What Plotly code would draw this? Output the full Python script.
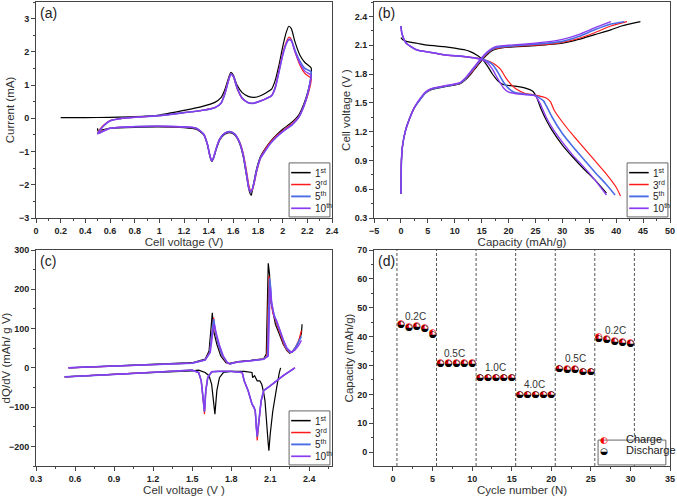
import plotly.graph_objects as go

# ---------------- colours / labels ----------------
cycle_names = ["1<sup>st</sup>", "3<sup>rd</sup>", "5<sup>th</sup>", "10<sup>th</sup>"]
cycle_colors = ["#000000", "#ff1a1a", "#4a6de5", "#8a3cf0"]
cycle_widths = [1.2, 1.2, 1.6, 1.4]

# ---------------- (a) cyclic voltammetry ----------------
cv_v_1 = [0.2, 0.4, 0.6, 0.8, 1.0, 1.2, 1.35, 1.45, 1.5, 1.53, 1.56, 1.58, 1.6, 1.63, 1.67, 1.72, 1.77,
          1.82, 1.87, 1.91, 1.94, 1.97, 2.0, 2.03, 2.05, 2.07, 2.1, 2.14, 2.18, 2.23,
          2.23, 2.2, 2.17, 2.13, 2.08, 2.0, 1.95, 1.9, 1.86, 1.82, 1.79, 1.77, 1.755, 1.745, 1.73, 1.71,
          1.68, 1.65, 1.61, 1.57, 1.53, 1.49, 1.46, 1.44, 1.425, 1.41, 1.39, 1.36, 1.3, 1.2, 1.0, 0.8, 0.6, 0.5, 0.5]
cv_i_1 = [0.02, 0.02, 0.03, 0.05, 0.1, 0.24, 0.36, 0.48, 0.62, 0.85, 1.2, 1.38, 1.3, 1.0, 0.78, 0.66, 0.63,
          0.68, 0.78, 0.88, 1.15, 1.6, 2.15, 2.6, 2.77, 2.7, 2.3, 1.9, 1.68, 1.52,
          1.25, 0.75, 0.42, 0.1, -0.1, -0.33, -0.5, -0.7, -0.9, -1.15, -1.5, -1.85, -2.15, -2.32, -2.2, -1.8,
          -1.15, -0.75, -0.5, -0.43, -0.48, -0.65, -0.95, -1.2, -1.3, -1.15, -0.8, -0.5, -0.33, -0.28, -0.26, -0.27, -0.3, -0.36, -0.3]

cv_v_n = [0.5, 0.55, 0.6, 0.7, 0.8, 1.0, 1.2, 1.35, 1.45, 1.5, 1.53, 1.56, 1.58, 1.6, 1.63, 1.67, 1.72, 1.76,
          1.82, 1.87, 1.91, 1.94, 1.97, 2.0, 2.03, 2.05, 2.07, 2.1, 2.14, 2.18, 2.23,
          2.23, 2.2, 2.17, 2.13, 2.08, 2.0, 1.95, 1.9, 1.86, 1.82, 1.79, 1.77, 1.755, 1.74, 1.725, 1.71,
          1.68, 1.65, 1.61, 1.57, 1.53, 1.49, 1.46, 1.44, 1.425, 1.41, 1.39, 1.36, 1.3, 1.2, 1.0, 0.8, 0.6, 0.5]
cv_i_3 = [-0.42, -0.2, -0.07, 0.0, 0.03, 0.08, 0.17, 0.24, 0.32, 0.45, 0.75, 1.15, 1.34, 1.25, 0.9, 0.6, 0.47, 0.45,
          0.52, 0.6, 0.68, 0.95, 1.45, 1.95, 2.3, 2.44, 2.38, 2.0, 1.6, 1.35, 1.2,
          1.1, 0.65, 0.35, 0.05, -0.15, -0.37, -0.52, -0.72, -0.92, -1.2, -1.6, -1.95, -2.15, -2.17, -2.0, -1.65,
          -1.05, -0.7, -0.47, -0.4, -0.45, -0.62, -0.92, -1.18, -1.28, -1.12, -0.78, -0.48, -0.3, -0.26, -0.24, -0.25, -0.3, -0.42]
cv_i_5 = [-0.45, -0.22, -0.08, 0.0, 0.03, 0.08, 0.17, 0.24, 0.32, 0.45, 0.72, 1.12, 1.33, 1.26, 0.92, 0.62, 0.47, 0.45,
          0.52, 0.6, 0.68, 0.92, 1.4, 1.9, 2.25, 2.37, 2.35, 2.05, 1.72, 1.5, 1.4,
          1.3, 0.7, 0.35, 0.03, -0.18, -0.4, -0.56, -0.76, -0.97, -1.2, -1.55, -1.9, -2.12, -2.2, -2.1, -1.75,
          -1.1, -0.72, -0.47, -0.4, -0.45, -0.62, -0.92, -1.18, -1.28, -1.12, -0.78, -0.48, -0.3, -0.26, -0.24, -0.25, -0.3, -0.45]
cv_i_10 = [-0.47, -0.22, -0.08, 0.0, 0.03, 0.08, 0.17, 0.24, 0.32, 0.45, 0.72, 1.12, 1.33, 1.27, 0.93, 0.62, 0.47, 0.45,
           0.52, 0.6, 0.68, 0.92, 1.4, 1.9, 2.25, 2.37, 2.33, 2.0, 1.65, 1.42, 1.3,
           1.25, 0.7, 0.35, 0.03, -0.18, -0.4, -0.56, -0.76, -0.97, -1.2, -1.55, -1.9, -2.12, -2.22, -2.1, -1.75,
           -1.1, -0.72, -0.47, -0.4, -0.45, -0.62, -0.92, -1.18, -1.28, -1.12, -0.78, -0.48, -0.3, -0.26, -0.24, -0.25, -0.3, -0.47]

# ---------------- (b) charge / discharge profiles ----------------
dis_q_1 = [0, 0.3, 1, 3, 5, 8, 10, 12, 13, 14, 15, 16, 17, 18, 19, 21, 23, 24.5, 25.2, 26, 27, 28, 30, 32, 34, 36, 38.2]
dis_v_1 = [2.18, 2.16, 2.14, 2.12, 2.1, 2.085, 2.07, 2.05, 2.03, 2.0, 1.96, 1.89, 1.8, 1.73, 1.69, 1.675, 1.655, 1.62, 1.56,
           1.44, 1.32, 1.22, 1.06, 0.93, 0.81, 0.7, 0.56]
dis_q_3 = [0, 0.2, 1, 3, 5, 8, 12, 15, 16.5, 17.5, 18.5, 19.5, 20.5, 21.5, 23, 25, 27, 27.8, 28.5, 30, 32, 34, 36, 38, 40, 40.8]
dis_v_3 = [2.3, 2.22, 2.12, 2.05, 2.03, 2.0, 1.98, 1.955, 1.93, 1.9, 1.85, 1.76, 1.69, 1.64, 1.6, 1.58, 1.55, 1.51, 1.42,
           1.3, 1.16, 1.03, 0.9, 0.77, 0.62, 0.53]
dis_q_5 = [0, 0.2, 1, 3, 5, 8, 12, 15, 16, 17, 18, 19, 20, 21, 23, 25, 26.5, 27, 28, 30, 32, 34, 36, 38, 39.8]
dis_v_5 = [2.3, 2.22, 2.12, 2.05, 2.03, 2.0, 1.98, 1.955, 1.935, 1.9, 1.82, 1.72, 1.65, 1.61, 1.59, 1.575, 1.52, 1.47, 1.36,
           1.18, 1.04, 0.91, 0.78, 0.66, 0.54]
dis_q_10 = [0, 0.2, 1, 3, 5, 8, 12, 15, 16, 17, 18, 19, 20, 21, 23, 25, 25.8, 27, 28, 30, 32, 34, 36, 38.2]
dis_v_10 = [2.3, 2.22, 2.12, 2.05, 2.03, 2.0, 1.98, 1.95, 1.92, 1.85, 1.75, 1.66, 1.61, 1.6, 1.585, 1.57, 1.5, 1.35, 1.25,
            1.09, 0.95, 0.83, 0.7, 0.54]

chg_q_1 = [0, 0.1, 0.3, 0.8, 1.5, 2.5, 3.5, 4.5, 5.5, 7, 9, 11, 12, 13, 14, 15, 16, 17, 18, 20, 25, 30, 33, 36, 39, 41, 44.5]
chg_v_1 = [0.55, 0.9, 1.05, 1.2, 1.32, 1.45, 1.53, 1.6, 1.635, 1.655, 1.675, 1.7, 1.74, 1.8, 1.87, 1.94, 2.0, 2.045, 2.065,
           2.08, 2.095, 2.12, 2.16, 2.21, 2.26, 2.3, 2.345]
chg_q_3 = [0, 0.1, 0.3, 0.8, 1.5, 2.5, 3.5, 4.5, 5.5, 7, 9, 11, 12, 13, 14, 15, 16, 17, 18, 20, 25, 30, 33, 36, 39, 42]
chg_v_3 = [0.55, 0.9, 1.05, 1.2, 1.32, 1.45, 1.53, 1.6, 1.64, 1.66, 1.68, 1.705, 1.75, 1.81, 1.88, 1.95, 2.01, 2.055, 2.07,
           2.085, 2.1, 2.13, 2.17, 2.23, 2.3, 2.345]
chg_q_5 = [0, 0.1, 0.3, 0.8, 1.5, 2.5, 3.5, 4.5, 5.5, 7, 9, 11, 12, 13, 14, 15, 16, 17, 18, 20, 25, 30, 33, 36, 39, 41.5]
chg_v_5 = [0.55, 0.9, 1.05, 1.2, 1.32, 1.45, 1.53, 1.6, 1.64, 1.66, 1.68, 1.705, 1.75, 1.82, 1.89, 1.96, 2.02, 2.06, 2.08,
           2.09, 2.11, 2.14, 2.19, 2.26, 2.32, 2.345]
chg_q_10 = [0, 0.1, 0.3, 0.8, 1.5, 2.5, 3.5, 4.5, 5.5, 7, 9, 11, 12, 13, 14, 15, 16, 17, 18, 20, 25, 30, 33, 36, 39]
chg_v_10 = [0.55, 0.9, 1.05, 1.2, 1.32, 1.45, 1.54, 1.61, 1.645, 1.665, 1.685, 1.71, 1.76, 1.83, 1.9, 1.97, 2.03, 2.07, 2.09,
            2.1, 2.12, 2.16, 2.21, 2.28, 2.345]

# ---------------- (c) dQ/dV ----------------
dq_pos_v_1 = [0.55, 1.0, 1.5, 1.6, 1.63, 1.645, 1.655, 1.665, 1.69, 1.72, 1.76, 1.78, 1.85, 1.95, 2.05, 2.07, 2.08, 2.085,
              2.095, 2.1, 2.12, 2.14, 2.17, 2.2, 2.23, 2.25, 2.28, 2.31, 2.34, 2.345]
dq_pos_y_1 = [0, 6, 13, 22, 43, 100, 140, 94, 60, 30, 13, 11, 16, 19, 23, 35, 187, 266, 238, 179, 145, 111, 86, 60, 43, 37,
              45, 60, 87, 111]
dq_pos_v_3 = [0.55, 1.0, 1.5, 1.6, 1.635, 1.655, 1.665, 1.675, 1.7, 1.73, 1.77, 1.79, 1.85, 1.95, 2.05, 2.075, 2.085, 2.09,
              2.1, 2.105, 2.12, 2.15, 2.18, 2.21, 2.24, 2.26, 2.29, 2.32, 2.34]
dq_pos_y_3 = [0, 6, 12, 20, 40, 100, 128, 95, 60, 30, 12, 10, 15, 18, 22, 30, 180, 234, 205, 170, 140, 110, 80, 55, 40, 38,
              50, 70, 95]
dq_pos_v_5 = [0.55, 1.0, 1.5, 1.6, 1.635, 1.655, 1.665, 1.68, 1.7, 1.73, 1.77, 1.79, 1.85, 1.95, 2.05, 2.08, 2.09, 2.095,
              2.105, 2.11, 2.13, 2.16, 2.19, 2.22, 2.25, 2.27, 2.3, 2.34]
dq_pos_y_5 = [0, 6, 12, 20, 38, 95, 124, 92, 62, 32, 13, 10, 15, 18, 22, 30, 170, 228, 200, 165, 135, 108, 78, 52, 40, 40,
              55, 80]
dq_pos_v_10 = [0.55, 1.0, 1.5, 1.6, 1.64, 1.66, 1.67, 1.685, 1.71, 1.74, 1.77, 1.79, 1.85, 1.95, 2.05, 2.085, 2.095, 2.1,
               2.11, 2.13, 2.15, 2.17, 2.2, 2.23, 2.26, 2.29, 2.32, 2.34]
dq_pos_y_10 = [0, 6, 12, 20, 40, 92, 111, 88, 58, 30, 14, 10, 15, 18, 22, 30, 160, 205, 170, 130, 120, 100, 72, 50, 40, 45,
               58, 70]

dq_neg_v_1 = [2.18, 2.17, 2.15, 2.12, 2.1, 2.09, 2.085, 2.075, 2.06, 2.05, 2.035, 2.02, 2.0, 1.98, 1.965, 1.96, 1.9, 1.8,
              1.74, 1.71, 1.69, 1.675, 1.665, 1.65, 1.63, 1.6, 1.55, 1.5, 1.0, 0.52]
dq_neg_y_1 = [0, -12, -50, -110, -169, -211, -194, -143, -84, -63, -42, -33, -33, -20, -25, -12, -9, -9,
              -12, -25, -58, -118, -92, -42, -20, -12, -6, -8, -15, -23]
dq_neg_v_3 = [2.29, 2.2, 2.1, 2.05, 2.03, 2.02, 2.01, 2.0, 1.995, 1.985, 1.975, 1.96, 1.93, 1.9, 1.885, 1.8, 1.7, 1.65,
              1.62, 1.605, 1.595, 1.585, 1.57, 1.55, 1.5, 1.0, 0.52]
dq_neg_y_3 = [0, -20, -46, -58, -84, -118, -152, -185, -160, -110, -100, -92, -58, -33, -12, -9, -9, -10,
              -25, -58, -118, -75, -33, -12, -6, -15, -23]
dq_neg_y_5 = [0, -20, -46, -58, -84, -118, -150, -175, -158, -110, -100, -92, -58, -33, -12, -9, -9, -10,
              -25, -58, -112, -75, -33, -12, -6, -15, -23]
dq_neg_y_10 = [0, -20, -46, -58, -86, -120, -150, -172, -155, -108, -102, -92, -58, -33, -12, -9, -9, -10,
               -25, -58, -110, -75, -33, -12, -6, -15, -23]

# ---------------- (d) rate capability ----------------
cycle_no = list(range(1, 31))
charge_cap = [44.3, 43.5, 43.6, 43.2, 41.3, 30.8, 30.8, 30.8, 30.8, 30.8, 25.9, 25.8, 25.8, 25.8, 25.8,
              20.0, 20.0, 20.0, 20.0, 20.0, 29.0, 28.9, 28.9, 28.0, 27.9, 39.8, 39.3, 38.7, 38.3, 38.0]
discharge_cap = [44.0, 43.2, 43.3, 42.8, 40.7, 30.6, 30.6, 30.6, 30.6, 30.6, 25.7, 25.6, 25.6, 25.6, 25.6,
                 19.8, 19.8, 19.8, 19.8, 19.8, 28.8, 28.7, 28.7, 27.8, 27.7, 39.4, 38.9, 38.2, 37.8, 37.4]
rate_boundaries = [0.5, 5.5, 10.5, 15.5, 20.5, 25.5, 30.5]
rate_labels = ["0.2C", "0.5C", "1.0C", "4.0C", "0.5C", "0.2C"]
rate_label_x = [2.8, 7.8, 12.9, 17.9, 23.0, 28.1]
rate_label_y = [46.8, 34.0, 29.4, 23.3, 32.6, 42.2]

# ================= figure =================
FONT = "Liberation Sans, Arial, sans-serif"
AXC = "#444444"
fig = go.Figure()

cv_sets = [(cv_v_1, cv_i_1), (cv_v_n, cv_i_3), (cv_v_n, cv_i_5), (cv_v_n, cv_i_10)]
for k, (vx, iy) in enumerate(cv_sets):
    fig.add_trace(go.Scatter(x=vx, y=iy, mode="lines", xaxis="x", yaxis="y", showlegend=False,
                             line=dict(color=cycle_colors[k], width=cycle_widths[k], shape="spline", smoothing=0.6)))

dis_sets = [(dis_q_1, dis_v_1), (dis_q_3, dis_v_3), (dis_q_5, dis_v_5), (dis_q_10, dis_v_10)]
chg_sets = [(chg_q_1, chg_v_1), (chg_q_3, chg_v_3), (chg_q_5, chg_v_5), (chg_q_10, chg_v_10)]
for k in range(4):
    for q, v in (dis_sets[k], chg_sets[k]):
        fig.add_trace(go.Scatter(x=q, y=v, mode="lines", xaxis="x2", yaxis="y2", showlegend=False,
                                 line=dict(color=cycle_colors[k], width=cycle_widths[k], shape="spline", smoothing=0.6)))

pos_sets = [(dq_pos_v_1, dq_pos_y_1), (dq_pos_v_3, dq_pos_y_3), (dq_pos_v_5, dq_pos_y_5), (dq_pos_v_10, dq_pos_y_10)]
neg_sets = [(dq_neg_v_1, dq_neg_y_1), (dq_neg_v_3, dq_neg_y_3), (dq_neg_v_3, dq_neg_y_5), (dq_neg_v_3, dq_neg_y_10)]
for k in range(4):
    for vx, yy in (pos_sets[k], neg_sets[k]):
        fig.add_trace(go.Scatter(x=vx, y=yy, mode="lines", xaxis="x3", yaxis="y3", showlegend=False,
                                 line=dict(color=cycle_colors[k], width=cycle_widths[k])))

fig.add_trace(go.Scatter(x=cycle_no, y=charge_cap, mode="text", text=["\u25D0"] * len(cycle_no),
                         textfont=dict(color="#ff0000", size=9, family="DejaVu Sans"),
                         xaxis="x4", yaxis="y4", showlegend=False))
fig.add_trace(go.Scatter(x=cycle_no, y=discharge_cap, mode="text", text=["\u25D2"] * len(cycle_no),
                         textfont=dict(color="#000000", size=9, family="DejaVu Sans"),
                         xaxis="x4", yaxis="y4", showlegend=False))

shapes = []
annotations = []
for xb in rate_boundaries:
    shapes.append(dict(type="line", xref="x4", yref="y4 domain", x0=xb, x1=xb, y0=0, y1=1,
                       line=dict(color="#555555", width=1, dash="3px,2px")))
for lbl, lx, ly in zip(rate_labels, rate_label_x, rate_label_y):
    annotations.append(dict(text=lbl, x=lx, y=ly, xref="x4", yref="y4", showarrow=False,
                            font=dict(family=FONT, size=10, color="#333333")))

# custom legends for a, b, c
def cycle_legend(xs, ys):
    shapes.append(dict(type="rect", xref=xs + " domain", yref=ys + " domain", x0=0.855, x1=0.993, y0=0.005, y1=0.255,
                       line=dict(color="#666666", width=1), fillcolor="white", layer="above"))
    ypos = [0.21, 0.155, 0.1, 0.045]
    for k in range(4):
        shapes.append(dict(type="line", xref=xs + " domain", yref=ys + " domain", x0=0.862, x1=0.928,
                           y0=ypos[k], y1=ypos[k], line=dict(color=cycle_colors[k], width=cycle_widths[k] + 0.3),
                           layer="above"))
        annotations.append(dict(text=cycle_names[k], xref=xs + " domain", yref=ys + " domain", x=0.935, y=ypos[k],
                                xanchor="left", yanchor="middle", showarrow=False,
                                font=dict(family=FONT, size=10, color="#222222")))

cycle_legend("x", "y")
cycle_legend("x2", "y2")
cycle_legend("x3", "y3")

# legend for d
shapes.append(dict(type="rect", xref="x4 domain", yref="y4 domain", x0=0.757, x1=0.986, y0=0.005, y1=0.12,
                   line=dict(color="#666666", width=1), fillcolor="white", layer="above"))
for glyph, col, yv, name in [("\u25D0", "#ff0000", 0.089, "Charge"), ("\u25D2", "#000000", 0.038, "Discharge")]:
    annotations.append(dict(text=glyph, xref="x4 domain", yref="y4 domain", x=0.796, y=yv, showarrow=False,
                            font=dict(family="DejaVu Sans", size=9, color=col)))
    annotations.append(dict(text=name, xref="x4 domain", yref="y4 domain", x=0.845, y=yv, xanchor="left",
                            showarrow=False, font=dict(family=FONT, size=11, color="#222222")))

for lab, xs, ys in [("(a)", "x", "y"), ("(b)", "x2", "y2"), ("(c)", "x3", "y3"), ("(d)", "x4", "y4")]:
    annotations.append(dict(text=lab, xref=xs + " domain", yref=ys + " domain", x=0.008, y=0.995, xanchor="left",
                            yanchor="top", showarrow=False, font=dict(family=FONT, size=14, color="#222222")))


def axis(rng, dom, dtick, minor, title, anchor, tick0=0, standoff=1):
    return dict(range=rng, domain=dom, anchor=anchor, dtick=dtick, tick0=tick0, showgrid=False, zeroline=False,
                automargin=False,
                showline=True, linecolor=AXC, linewidth=1, mirror=True, ticks="outside", ticklen=4, tickwidth=1,
                tickcolor=AXC, minor=dict(ticks="outside", ticklen=2, dtick=minor, tickcolor=AXC, showgrid=False),
                tickfont=dict(family=FONT, size=9, color="#222222", weight="bold"),
                title=dict(text=title, font=dict(family=FONT, size=11.5, color="#333333"), standoff=standoff))


XL = [36 / 677, 332 / 677]
XR = [374 / 677, 670 / 677]
YT = [1 - 218 / 496, 1 - 2 / 496]
YB = [1 - 466 / 496, 1 - 250 / 496]

fig.update_layout(
    width=677, height=496, margin=dict(l=0, r=0, t=0, b=0, autoexpand=False),
    plot_bgcolor="white", paper_bgcolor="white",
    xaxis=axis([0, 2.4], XL, 0.2, 0.1, "Cell voltage (V)", "y"),
    yaxis=axis([-3, 3.5], YT, 1, 0.5, "Current (mA)", "x"),
    xaxis2=axis([-5, 50], XR, 5, 2.5, "Capacity (mAh/g)", "y2"),
    yaxis2=axis([0.3, 2.55], YT, 0.3, 0.15, "Cell voltage (V )", "x2", tick0=0.3),
    xaxis3=axis([0.3, 2.575], XL, 0.3, 0.15, "Cell voltage (V )", "y3", tick0=0.3),
    yaxis3=axis([-250, 300], YB, 100, 50, "dQ/dV (mAh/ g V)", "x3"),
    xaxis4=axis([-2.4, 35], XR, 5, 2.5, "Cycle number (N)", "y4"),
    yaxis4=axis([-4.8, 70], YB, 10, 5, "Capacity (mAh/g)", "x4"),
    shapes=shapes, annotations=annotations,
)

fig.write_html("out.html")
